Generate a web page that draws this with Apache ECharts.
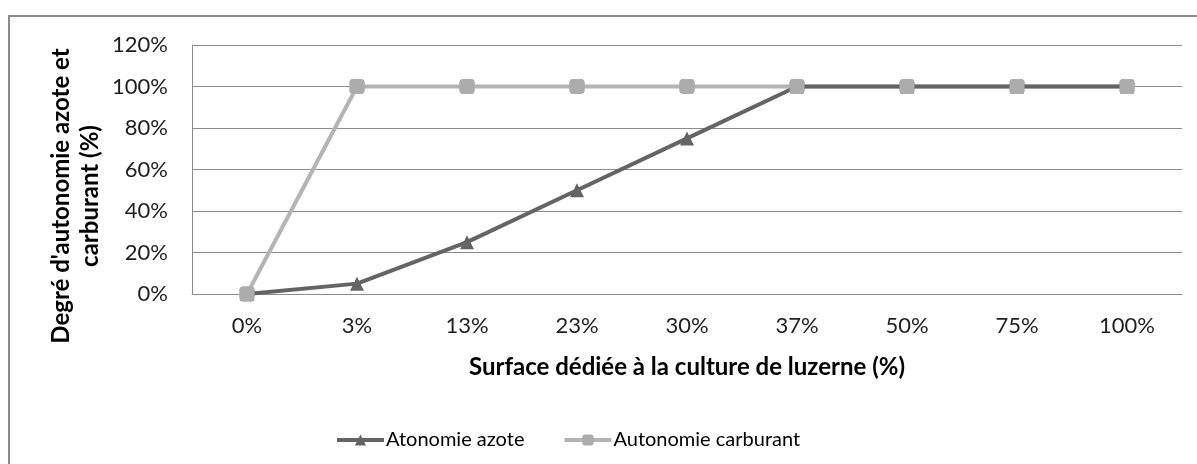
<!DOCTYPE html>
<html>
<head>
<meta charset="utf-8">
<script src="https://cdn.jsdelivr.net/npm/echarts@6/dist/echarts.min.js"></script>
<style>
  html, body { margin: 0; padding: 0; background: #fff; }
  #chart { width: 1197px; height: 464px; }
</style>
</head>
<body>
<div id="chart"></div>
<script>
// Share of farm surface given over to lucerne (x categories)
const categories = ['0%', '3%', '13%', '23%', '30%', '37%', '50%', '75%', '100%'];
// Degree of self-sufficiency, in percent
const azote = [0, 5, 25, 50, 75, 100, 100, 100, 100];
const carburant = [0, 100, 100, 100, 100, 100, 100, 100, 100];
const yTicks = [0, 20, 40, 60, 80, 100, 120];

const FONT = 'Lato, "Open Sans", sans-serif';
const DARK = '#646464';
const LIGHT = '#b4b4b4';

const chart = echarts.init(document.getElementById('chart'));
chart.setOption({
  animation: false,
  backgroundColor: '#fff',
  graphic: [
    {
      type: 'rect',
      shape: { x: 9, y: 16, width: 1300, height: 600 },
      style: { fill: 'none', stroke: '#8c8c8c', lineWidth: 2 },
      silent: true
    },
    {
      type: 'text',
      x: 76, y: 196,
      rotation: Math.PI / 2,
      style: {
        text: "Degré d'autonomie azote et\ncarburant (%)",
        font: 'bold 24px ' + FONT,
        fill: '#000',
        align: 'center',
        verticalAlign: 'middle',
        lineHeight: 29
      }
    }
  ],
  grid: { left: 192, right: 15, top: 45, bottom: 170, containLabel: false },
  xAxis: {
    type: 'category',
    data: categories,
    boundaryGap: true,
    name: 'Surface dédiée à la culture de luzerne (%)',
    nameLocation: 'middle',
    nameGap: 61,
    nameTextStyle: { fontFamily: FONT, fontWeight: 'bold', fontSize: 24, color: '#000' },
    axisLine: { lineStyle: { color: '#8c8c8c', width: 1 } },
    axisTick: { show: false },
    axisLabel: { fontFamily: FONT, fontSize: 22, color: '#1e1e1e', margin: 21 }
  },
  yAxis: {
    type: 'value',
    min: 0, max: 120, interval: 20,
    axisLine: { show: true, lineStyle: { color: '#8c8c8c', width: 1 } },
    axisTick: { show: false },
    splitLine: { lineStyle: { color: '#8c8c8c', width: 1 } },
    axisLabel: {
      fontFamily: FONT, fontSize: 22, color: '#1e1e1e', margin: 24,
      formatter: v => yTicks.includes(v) ? v + '%' : ''
    }
  },
  legend: {
    top: 425,
    left: 330,
    itemGap: 38,
    itemWidth: 47,
    itemHeight: 14,
    lineStyle: { width: 4 },
    textStyle: { fontFamily: FONT, fontSize: 20, color: '#000', padding: [0, 0, 0, -3] },
    data: ['Atonomie azote', 'Autonomie carburant']
  },
  series: [
    {
      name: 'Autonomie carburant',
      type: 'line',
      data: carburant,
      z: 2,
      symbol: 'roundRect',
      symbolSize: 15,
      itemStyle: { color: '#acacac' },
      lineStyle: { color: LIGHT, width: 4 }
    },
    {
      name: 'Atonomie azote',
      type: 'line',
      data: azote,
      z: 3,
      symbol: 'triangle',
      symbolSize: 14,
      itemStyle: { color: DARK },
      lineStyle: { color: DARK, width: 4 }
    },
    {
      // square markers kept above the darker line where the two curves overlap
      name: 'Autonomie carburant',
      type: 'line',
      data: carburant,
      z: 4,
      symbol: 'roundRect',
      symbolSize: 15,
      itemStyle: { color: '#acacac' },
      lineStyle: { width: 0, opacity: 0 }
    }
  ]
});
</script>
</body>
</html>
